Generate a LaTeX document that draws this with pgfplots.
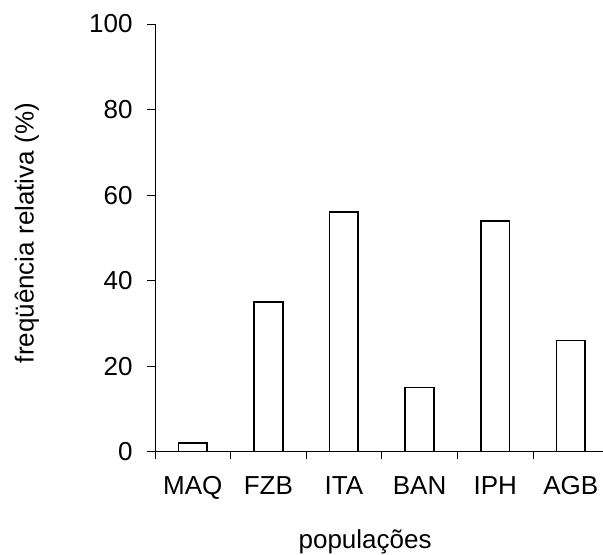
\documentclass[border=0pt]{standalone}
\usepackage{pgfplots}
\pgfplotsset{compat=1.18}
\usepackage{fontspec}
\setmainfont{Liberation Sans}
\begin{document}
\begin{tikzpicture}
\begin{axis}[
  at={(155bp,103.3bp)}, anchor=south west,
  width=448bp, height=427.7bp, scale only axis,
  xmin=-0.5, xmax=5.426, ymin=0, ymax=100,
  axis lines=left,
  axis line style={-, black, line width=0.8bp},
  ytick={0,20,...,100},
  xtick={-0.5,0.5,1.5,2.5,3.5,4.5}, xticklabels={},
  extra x ticks={0,1,2,3,4,5},
  extra x tick labels={MAQ,FZB,ITA,BAN,IPH,AGB},
  extra x tick style={major tick length=0pt, xticklabel style={yshift=-21bp}},
  tick align=outside, major tick length=7.7bp,
  tick style={black, line width=0.8bp},
  /pgf/number format/assume math mode=true,
  tick label style={font=\fontsize{26bp}{31bp}\selectfont},
  yticklabel style={xshift=-11.3bp},
  label style={font=\fontsize{26bp}{31bp}\selectfont},
  xlabel={populações},
  xlabel style={at={(axis description cs:0.469,-0.2252)}, anchor=base},
  ylabel={freqüência relativa (\%)},
  ylabel style={at={(axis description cs:-0.2712,0.511)}, anchor=base, rotate=0},
  ybar, bar width=28.7bp,
]
\addplot[draw=black, fill=white, line width=1.7bp] coordinates {
  (0,2) (1,35) (2,56) (3,15) (4,54) (5,26)
};
\end{axis}
\pgfresetboundingbox
\path[use as bounding box] (0,0) rectangle (603bp,555bp);
\end{tikzpicture}
\end{document}
